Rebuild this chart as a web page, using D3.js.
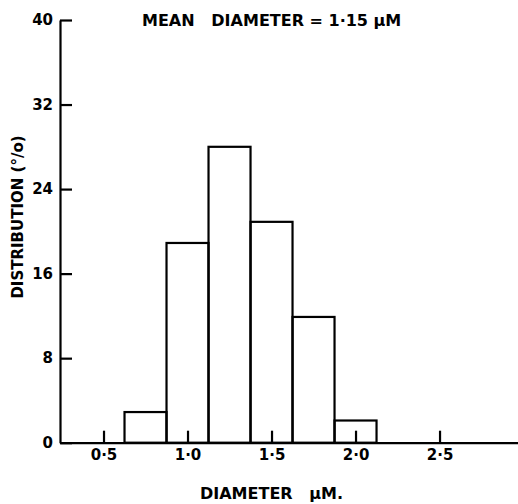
<!DOCTYPE html>
<html>
<head>
<meta charset="utf-8">
<title>Diameter distribution</title>
<script src="https://cdn.jsdelivr.net/npm/d3@7"></script>
<style>
  body { margin: 0; background: #fff; }
  svg { display: block; font-family: "DejaVu Sans", sans-serif; font-weight: bold; }
  .axis path, .axis line { stroke: #000; stroke-width: 2.2px; }
  .axis text { font-size: 15px; fill: #000; font-family: "DejaVu Sans", sans-serif; font-weight: bold; }
</style>
</head>
<body>
<div id="chart"></div>
<script>
// bin centres (diameter, um) and distribution (%)
var binCentres = [0.75, 1.0, 1.25, 1.5, 1.75, 2.0];
var distribution = [2.9, 18.9, 28, 20.9, 11.9, 2.1];
var binWidth = 0.25;
var xTicks = [0.5, 1.0, 1.5, 2.0, 2.5];
var yTicks = [0, 8, 16, 24, 32, 40];

var width = 518, height = 504;

var svg = d3.select("#chart").append("svg")
    .attr("width", width)
    .attr("height", height);

var x = d3.scaleLinear().domain([0.241, 2.967]).range([60, 518]);
var y = d3.scaleLinear().domain([0, 40]).range([442.7, 20]);

// bars
svg.append("g").selectAll("rect")
    .data(binCentres)
    .enter().append("rect")
    .attr("x", function(d) { return x(d - binWidth / 2); })
    .attr("width", function(d) { return x(d + binWidth / 2) - x(d - binWidth / 2); })
    .attr("y", function(d, i) { return y(distribution[i]); })
    .attr("height", function(d, i) { return y(0) - y(distribution[i]); })
    .style("fill", "none")
    .style("stroke", "#000")
    .style("stroke-width", "2.2px");

var fmt = function(d) { return d.toFixed(1).replace(".", "\u00b7"); };

svg.append("g")
    .attr("class", "axis")
    .attr("transform", "translate(0," + y(0) + ")")
    .call(d3.axisBottom(x).tickValues(xTicks).tickFormat(fmt)
        .tickSizeInner(-12).tickSizeOuter(0).tickPadding(7));

svg.append("g")
    .attr("class", "axis")
    .attr("transform", "translate(" + x.range()[0] + ",0)")
    .call(d3.axisLeft(y).tickValues(yTicks)
        .tickSizeInner(-12).tickSizeOuter(0).tickPadding(7));

svg.append("text")
    .attr("x", 142)
    .attr("y", 26)
    .style("font-size", "16px")
    .attr("xml:space", "preserve")
    .text("MEAN   DIAMETER = 1\u00b715 \u00b5M");

svg.append("text")
    .attr("x", 200)
    .attr("y", 499)
    .style("font-size", "16px")
    .attr("xml:space", "preserve")
    .text("DIAMETER   \u00b5M.");

svg.append("text")
    .attr("transform", "translate(23,217) rotate(-90)")
    .attr("text-anchor", "middle")
    .style("font-size", "15px")
    .text("DISTRIBUTION (\u00b0/o)");
</script>
</body>
</html>
